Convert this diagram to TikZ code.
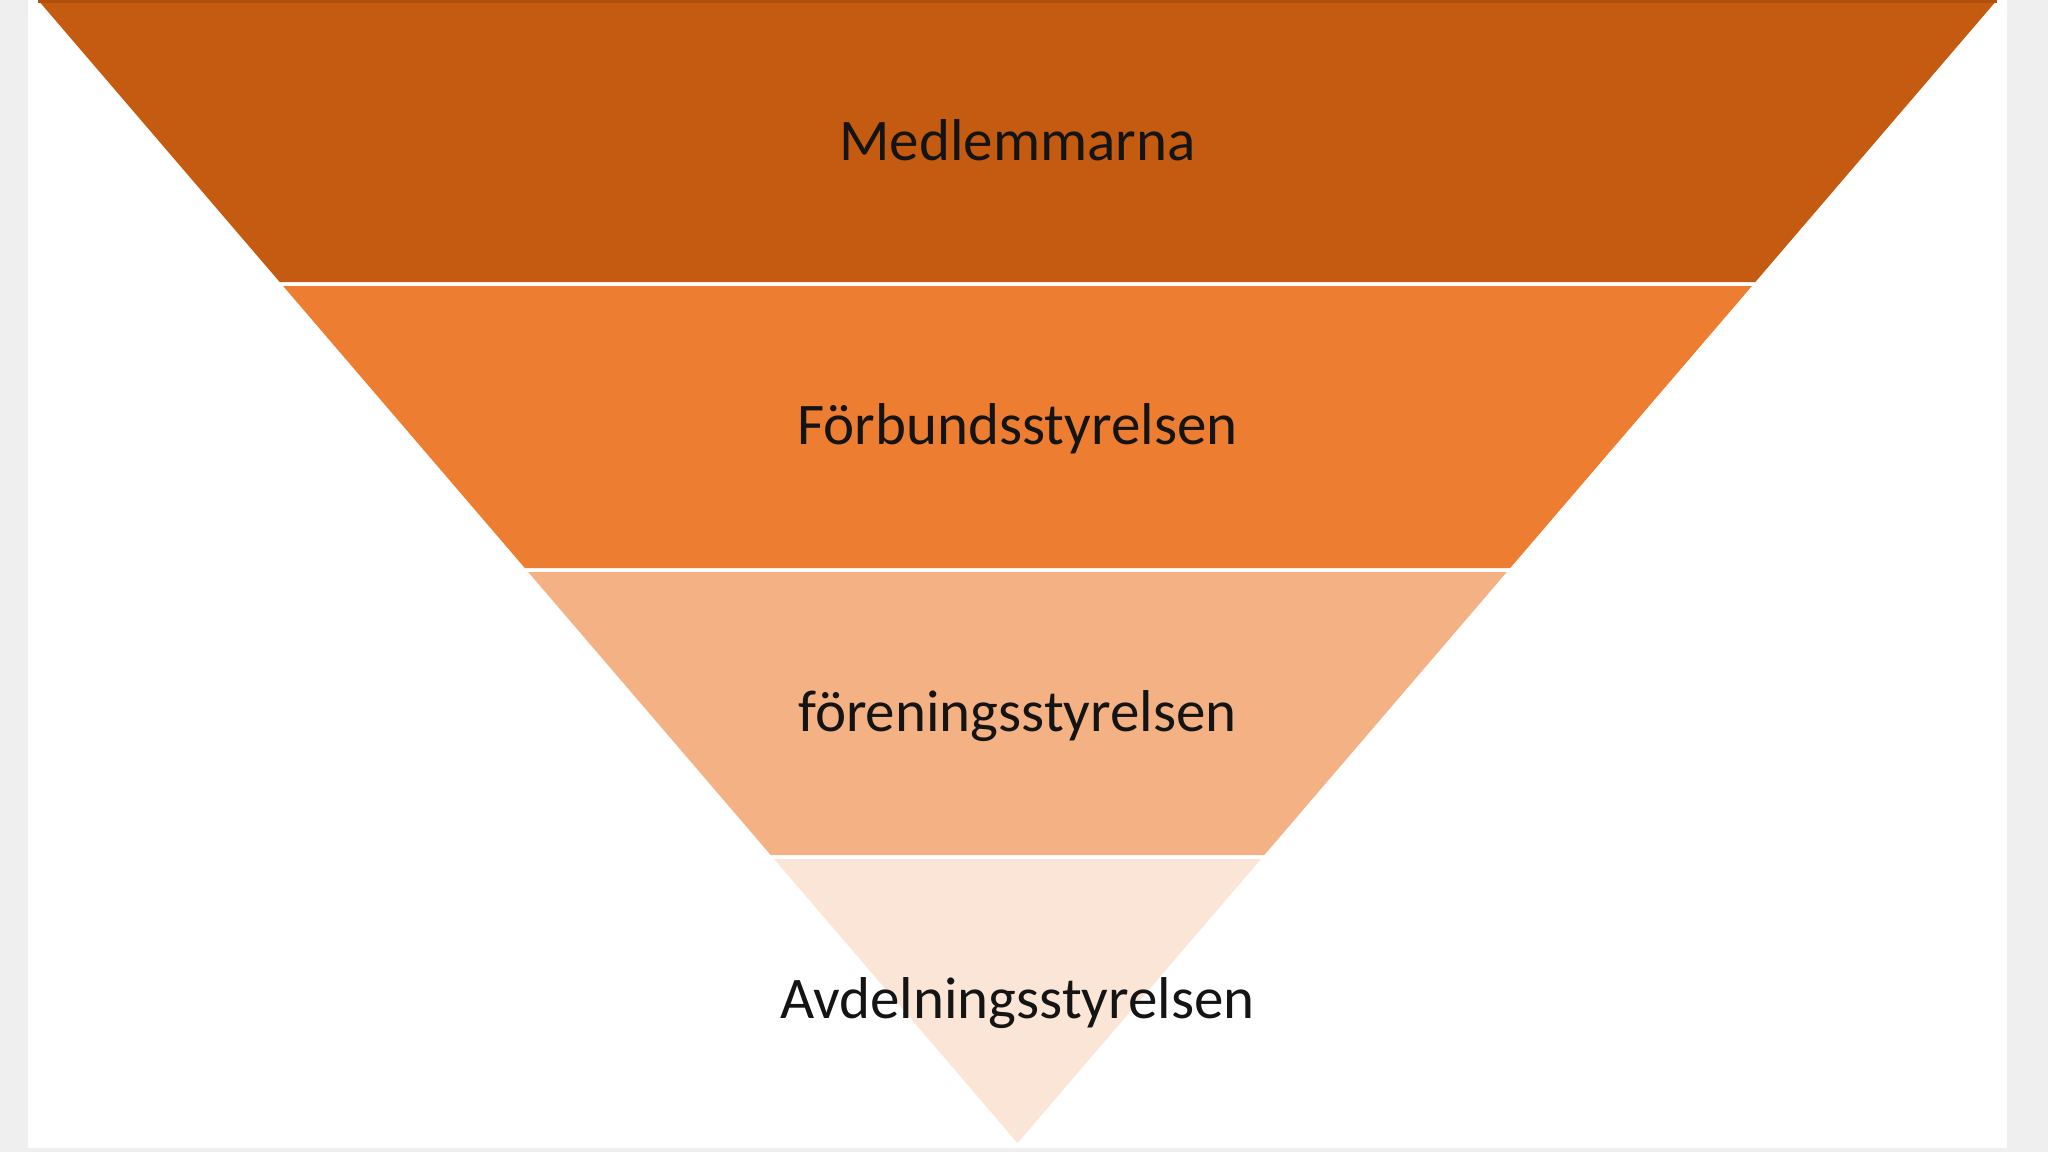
\documentclass[tikz,border=0pt]{standalone}
\usepackage{fontspec}
\setmainfont{Carlito}
\definecolor{bggray}{HTML}{EEEFEE}
\definecolor{bandA}{HTML}{C55A11}
\definecolor{bandAline}{HTML}{B04F0E}
\definecolor{bandB}{HTML}{ED7D31}
\definecolor{bandC}{HTML}{F4B183}
\definecolor{bandD}{HTML}{FBE5D6}
\definecolor{txt}{HTML}{141414}
\tikzset{
  band/.style={draw=none},
  lbl/.style={font=\fontsize{29.5}{34}\selectfont, text=txt, inner sep=0pt, anchor=center}
}
\begin{document}
\begin{tikzpicture}[x=0.5pt,y=-0.5pt]
\useasboundingbox (0,0) rectangle (2048,1152);
\fill[bggray] (0,0) rectangle (2048,1152);
\fill[white] (28,0) rectangle (2007,1148);
% bands
\fill[bandA,band] (38,0) -- (1997,0) -- (1755.3,282) -- (279.7,282) -- cycle;
\draw[bandAline,line width=1.5pt] (38,1) -- (1997,1);
\fill[bandB,band] (283.1,286) -- (1751.9,286) -- (1510.2,568) -- (524.8,568) -- cycle;
\fill[bandC,band] (528.2,572) -- (1506.8,572) -- (1264.3,855) -- (770.7,855) -- cycle;
\fill[bandD,band] (774.1,859) -- (1260.9,859) -- (1017.5,1143) -- cycle;
% labels
\node[lbl] (medl) at (1017.5,140) {Medlemmarna};
\node[lbl] (forb) at (1017.5,429) {Förbundsstyrelsen};
\node[lbl] (foren) at (1017.5,716) {föreningsstyrelsen};
\node[lbl] (avd) at (1017.5,1003) {Avdelningsstyrelsen};
\end{tikzpicture}
\end{document}
